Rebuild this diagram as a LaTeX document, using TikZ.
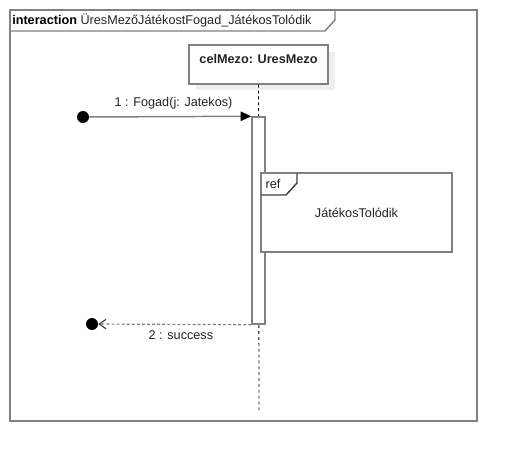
\documentclass[tikz,border=0pt]{standalone}
\usepackage{fontspec}
\setmainfont{Liberation Sans}
\usetikzlibrary{arrows.meta,positioning}
\definecolor{umlgrey}{RGB}{128,128,128}
\definecolor{umldark}{RGB}{64,64,64}
\definecolor{umltext}{RGB}{35,35,35}
\definecolor{umlshadow}{RGB}{238,238,238}
\begin{document}
\begin{tikzpicture}[x=0.75pt,y=-0.75pt,>=stealth,
		font=\fontsize{9.5}{11}\selectfont,text=umltext,
		box/.style={draw=umlgrey,line width=1.1pt,fill=white,inner sep=0pt},
		dot/.style={circle,fill=black,minimum size=9pt,inner sep=0pt},
		msg/.style={umlgrey,line width=1.1pt},
		reply/.style={umlgrey,line width=0.9pt,dash pattern=on 2.2pt off 1.6pt},
		msglabel/.style={text=umltext}]
	\useasboundingbox (0,0) rectangle (517,461);
	% frame
	\draw[umlgrey,line width=1.3pt] (10,10) rectangle (477,421);
	\draw[umlgrey,line width=1.1pt] (10,31) -- (325,31) -- (335,20) -- (335,10);
	\node[anchor=west,inner sep=0pt] (title) at (12,21) {\textbf{\color{black}interaction} ÜresMezőJátékostFogad\_JátékosTolódik};
	% lifeline
	\fill[umlshadow] (196,52) rectangle (335,90);
	\node[box,minimum width=104.25pt,minimum height=29.25pt] (mezo) at (258.5,64.5) {};
	\node[font=\fontsize{9.5}{11}\selectfont\bfseries,below=4pt of mezo.north] (mezoname) {celMezo: UresMezo};
	\coordinate (lifeend) at (259,412);
	\draw[black,line width=0.6pt,dash pattern=on 2.2pt off 2.2pt] (mezo.south) -- (lifeend);
	\node[box,minimum width=9.75pt,minimum height=155.25pt] (act) at (258.5,220.5) {};
	% ref
	\node[box,minimum width=143.25pt,minimum height=59.25pt] (reffrm) at (356.5,212.5) {JátékosTolódik};
	\draw[umldark,line width=1.1pt] (261,195) -- (286,195) -- (297,183) -- (297,173);
	\node (reftag) at (273,184) {ref};
	% messages
	\node[dot] (src) at (83,117) {};
	\node[dot] (sink) at (92,324) {};
	\draw[msg,-{Triangle[length=8pt,width=7pt,color=black]}] (src) -- (act.north west)
		node[msglabel,pos=0.52,above=2pt] {1 : Fogad(j: Jatekos)};
	\draw[reply,-{Straight Barb[length=5pt,width=7pt,color=umldark]}] (act.south west) -- (sink)
		node[msglabel,pos=0.46,below=1pt] {2 : success};
\end{tikzpicture}
\end{document}
